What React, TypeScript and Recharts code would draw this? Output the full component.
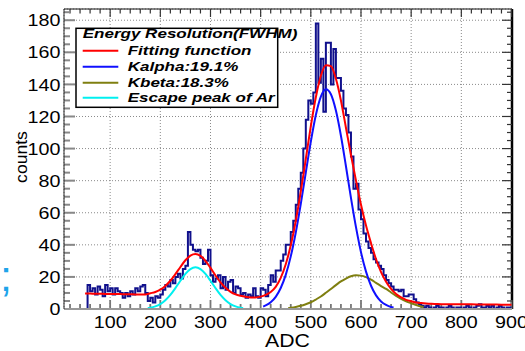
import React from 'react';
import { ComposedChart, Line, XAxis, YAxis, CartesianGrid, ReferenceLine } from 'recharts';

// ---- axis ticks ----
const xMajorTicks = [100, 200, 300, 400, 500, 600, 700, 800, 900];
const yMajorTicks = [0, 20, 40, 60, 80, 100, 120, 140, 160, 180];
const xDomain = [8, 901];
const yDomain = [0, 187];

// ---- histogram (bin width 5 ADC, first bin starts at 5) ----
const histStart = 5;
const histWidth = 5;
const histCounts = [
  0, 0, 0, 0, 0, 0, 0, 0, 0, 0,
  15, 11, 13, 9, 14, 12, 8, 15, 11, 13,
  9, 13, 11, 10, 7, 10, 8, 11, 9, 13,
  11, 14, 15, 10, 5, 7, 4, 8, 7, 9,
  12, 15, 14, 18, 16, 20, 22, 19, 25, 27,
  48, 40, 37, 36, 37, 32, 28, 30, 37, 21,
  17, 19, 21, 13, 20, 12, 17, 18, 10, 14,
  13, 9, 10, 7, 9, 8, 13, 8, 7, 13,
  12, 8, 15, 21, 17, 24, 24, 30, 34, 40,
  40, 48, 55, 65, 75, 85, 100, 118, 130, 128,
  135, 178, 141, 156, 123, 166, 166, 140, 162, 144,
  144, 136, 125, 121, 110, 95, 75, 78, 62, 56,
  47, 42, 38, 35, 31, 29, 27, 25, 21, 18,
  16, 14, 12, 12, 11, 12, 8, 8, 9, 9,
  6, 4, 3, 2, 1, 2, 1, 0, 1, 2,
  1, 1, 0, 1, 2, 1, 0, 1, 1, 0,
  1, 2, 1, 0, 1, 2, 3, 1, 1, 2,
  1, 2, 0, 1, 2, 1, 0, 1, 1,
];

// ---- fitting function (red) ----
const fitAdc = [50, 60, 70, 80, 90, 100, 110, 120, 130, 140, 150, 160, 170, 180, 190, 200, 210, 220, 230, 240, 250,
  260, 270, 280, 290, 300, 310, 320, 330, 340, 350, 360, 370, 380, 390, 400, 410, 420, 430, 440, 450, 460, 470, 480,
  490, 500, 510, 520, 530, 540, 550, 560, 570, 580, 590, 600, 610, 620, 630, 640, 650, 660, 670, 680, 690, 700, 710,
  720, 730, 740, 750, 760, 780, 800, 820, 840, 860, 880, 900];
const fitCounts = [9.6, 9.6, 9.5, 9.5, 9.4, 9.4, 9.3, 9.3, 9.2, 9.2, 9.1, 9.1, 9.0, 9.8, 10.6, 12.1, 14.4, 17.6, 21.7, 26.2, 30.4,
  33.3, 34.3, 33.1, 30.0, 25.6, 20.9, 16.6, 13.2, 10.7, 9.1, 8.2, 7.6, 7.2, 7.2, 7.7, 8.8, 10.6, 13.8, 19.4, 27.9, 39.7, 55, 73.3,
  93.5, 114, 132, 145.4, 152, 151.4, 143.5, 130, 113, 96, 80, 65, 52, 41, 31, 23, 17, 12.5, 9.3, 7.2, 5.7, 4.8, 4.1,
  3.7, 3.4, 3.2, 3.1, 3.0, 3.0, 2.9, 2.9, 2.8, 2.8, 2.7, 2.7];

// ---- Kalpha (blue) ----
const kalphaAdc = [405, 410, 420, 430, 440, 450, 460, 470, 480, 490, 500, 510, 520, 530, 540, 550, 560, 570, 580, 590, 600, 610, 620, 630, 640, 650, 660, 665];
const kalphaCounts = [1.5, 2.2, 4.2, 7.6, 13.1, 21.3, 32.8, 47.7, 65.5, 85.1, 104.3, 120.9, 132.4, 137, 133.9, 123.7, 108, 89, 69.3, 51, 35.4, 23.3, 14.5, 8.5, 4.7, 2.5, 1.2, 0.9];

// ---- Kbeta (olive) ----
const kbetaAdc = [455, 460, 470, 480, 490, 500, 510, 520, 530, 540, 550, 560, 570, 580, 590, 600, 610, 620, 630, 640, 650, 660, 670, 680, 690, 700, 710, 720, 725];
const kbetaCounts = [0.6, 0.8, 1.3, 2.0, 3.0, 4.2, 5.9, 7.8, 10.1, 12.5, 14.9, 17.2, 19.0, 20.4, 21.0, 20.8, 19.9, 18.3, 16.3, 14.3, 12.5, 10.3, 8.2, 6.3, 4.8, 3.6, 2.5, 1.6, 1.3];

// ---- Escape peak of Ar (cyan) ----
const escapeAdc = [175, 180, 190, 200, 210, 220, 230, 240, 250, 260, 270, 280, 290, 300, 310, 320, 330, 340, 350, 360, 365];
const escapeCounts = [0.6, 0.8, 1.6, 3.1, 5.5, 8.8, 13.0, 17.6, 21.9, 24.9, 26.0, 24.9, 21.9, 17.6, 13.0, 8.8, 5.5, 3.1, 1.6, 0.8, 0.55];

// ---- legend ----
const legendTitle = 'Energy Resolution(FWHM)';
const legendLabels = ['Fitting function', 'Kalpha:19.1%', 'Kbeta:18.3%', 'Escape peak of Ar'];
const legendColors = ['#ff0000', '#1010ff', '#7f7f10', '#00f0f0'];

const histData = histCounts.map((c, i) => ({ x: histStart + i * histWidth, y: c }));
histData.push({ x: histStart + histCounts.length * histWidth, y: histCounts[histCounts.length - 1] });
const pair = (xs: number[], ys: number[]) => xs.map((x, i) => ({ x, y: ys[i] }));
const fitData = pair(fitAdc, fitCounts);
const kalphaData = pair(kalphaAdc, kalphaCounts);
const kbetaData = pair(kbetaAdc, kbetaCounts);
const escapeData = pair(escapeAdc, escapeCounts);

const xMinorTicks = Array.from({ length: 45 }, (_, i) => 20 + i * 20);
const yMinorTicks = Array.from({ length: 37 }, (_, i) => 5 + i * 5);

const W = 525;
const H = 351;
const PLOT = { left: 64, top: 9, right: 512, bottom: 309 };
const yPx = (PLOT.bottom - PLOT.top) / (yDomain[1] - yDomain[0]);
const xPx = (PLOT.right - PLOT.left) / (xDomain[1] - xDomain[0]);
const FONT = "'Liberation Sans', Arial, Helvetica, sans-serif";

const XTick = (props: any) => {
  const { x, payload } = props;
  return (
    <text transform={`translate(${x} 327.5) scale(1.21 1)`} textAnchor="middle" fontSize={16.3} fontFamily={FONT} fill="#000">
      {payload.value}
    </text>
  );
};
const YTick = (props: any) => {
  const { y, payload } = props;
  return (
    <text transform={`translate(60.5 ${y + 6.1}) scale(1.21 1)`} textAnchor="end" fontSize={16.3} fontFamily={FONT} fill="#000">
      {payload.value}
    </text>
  );
};

export default function App() {
  const tickLines: React.ReactNode[] = [];
  xMinorTicks.forEach((t) => {
    const major = t % 100 === 0;
    const lb = (major ? 9 : 5) / yPx;
    const lt = (major ? 8 : 4.5) / yPx;
    tickLines.push(
      <ReferenceLine key={`xb${t}`} segment={[{ x: t, y: 0 }, { x: t, y: lb }]} stroke="#777" strokeWidth={1.8} ifOverflow="visible" />
    );
    tickLines.push(
      <ReferenceLine key={`xt${t}`} segment={[{ x: t, y: yDomain[1] }, { x: t, y: yDomain[1] - lt }]} stroke="#333" strokeWidth={1.2} ifOverflow="visible" />
    );
  });
  yMinorTicks.forEach((v) => {
    const major = v % 20 === 0;
    const ll = (major ? 11 : 6) / xPx;
    const lr = (major ? 10 : 5) / xPx;
    tickLines.push(
      <ReferenceLine key={`yl${v}`} segment={[{ x: xDomain[0], y: v }, { x: xDomain[0] + ll, y: v }]} stroke="#888" strokeWidth={2} ifOverflow="visible" />
    );
    tickLines.push(
      <ReferenceLine key={`yr${v}`} segment={[{ x: xDomain[1], y: v }, { x: xDomain[1] - lr, y: v }]} stroke="#333" strokeWidth={1.2} ifOverflow="visible" />
    );
  });

  return (
    <div style={{ position: 'absolute', left: 0, top: 0, width: W, height: H, background: '#fff' }}>
      <ComposedChart width={W} height={H} margin={{ top: PLOT.top, right: W - PLOT.right, bottom: 0, left: 0 }}>
        <CartesianGrid stroke="#8a8a8a" strokeDasharray="1 2" strokeWidth={1} />
        <XAxis
          dataKey="x"
          type="number"
          domain={xDomain}
          ticks={xMajorTicks}
          interval={0}
          allowDataOverflow
          height={H - PLOT.bottom}
          tickLine={false}
          axisLine={{ stroke: '#999', strokeWidth: 2 }}
          tick={XTick}
        />
        <YAxis
          type="number"
          domain={yDomain}
          ticks={yMajorTicks}
          interval={0}
          allowDataOverflow
          width={PLOT.left}
          tickLine={false}
          axisLine={{ stroke: '#222', strokeWidth: 1 }}
          tick={YTick}
        />
        <ReferenceLine y={yDomain[1]} stroke="#111" strokeWidth={1} ifOverflow="visible" />
        <ReferenceLine x={xDomain[1]} stroke="#000" strokeWidth={2.5} ifOverflow="visible" />
        {tickLines}
        <Line data={histData} dataKey="y" type="stepAfter" stroke="#10108c" strokeWidth={2} dot={false} isAnimationActive={false} />
        <Line data={escapeData} dataKey="y" type="monotone" stroke="#00f0f0" strokeWidth={2} dot={false} isAnimationActive={false} />
        <Line data={kbetaData} dataKey="y" type="monotone" stroke="#7f7f10" strokeWidth={2} dot={false} isAnimationActive={false} />
        <Line data={kalphaData} dataKey="y" type="monotone" stroke="#1010ff" strokeWidth={2} dot={false} isAnimationActive={false} />
        <Line data={fitData} dataKey="y" type="monotone" stroke="#ff0000" strokeWidth={2} dot={false} isAnimationActive={false} />
      </ComposedChart>
      <svg width={W} height={H} style={{ position: 'absolute', left: 0, top: 0, pointerEvents: 'none', overflow: 'hidden' }}>
        <rect x={76} y={28.3} width={201.7} height={79} fill="#fff" stroke="#000" strokeWidth={1.5} />
        <text transform="translate(82.7 38.3) scale(1.42 1)" fontSize={12} fontFamily={FONT} fontWeight="bold" fontStyle="italic" fill="#000">
          {legendTitle}
        </text>
        {legendLabels.map((lab, i) => {
          const cy = [50.7, 66.7, 82.7, 97.7][i];
          return (
            <g key={lab}>
              <line x1={82.7} x2={118.3} y1={cy} y2={cy} stroke={legendColors[i]} strokeWidth={2} />
              <text transform={`translate(127.7 ${cy + 4.3}) scale(1.42 1)`} fontSize={12} fontFamily={FONT} fontWeight="bold" fontStyle="italic" fill="#000">
                {lab}
              </text>
            </g>
          );
        })}
        <text transform="translate(26.7 157) rotate(-90) scale(1.1 1)" textAnchor="middle" fontSize={16} fontFamily={FONT} fill="#000">
          counts
        </text>
        <text transform="translate(287.5 346.5) scale(1.2 1)" textAnchor="middle" fontSize={17.7} fontFamily={FONT} fill="#000">
          ADC
        </text>
        <text x={0} y={290.5} fontSize={43} fontFamily={FONT} fill="#1ea4ea">
          ;
        </text>
      </svg>
    </div>
  );
}
